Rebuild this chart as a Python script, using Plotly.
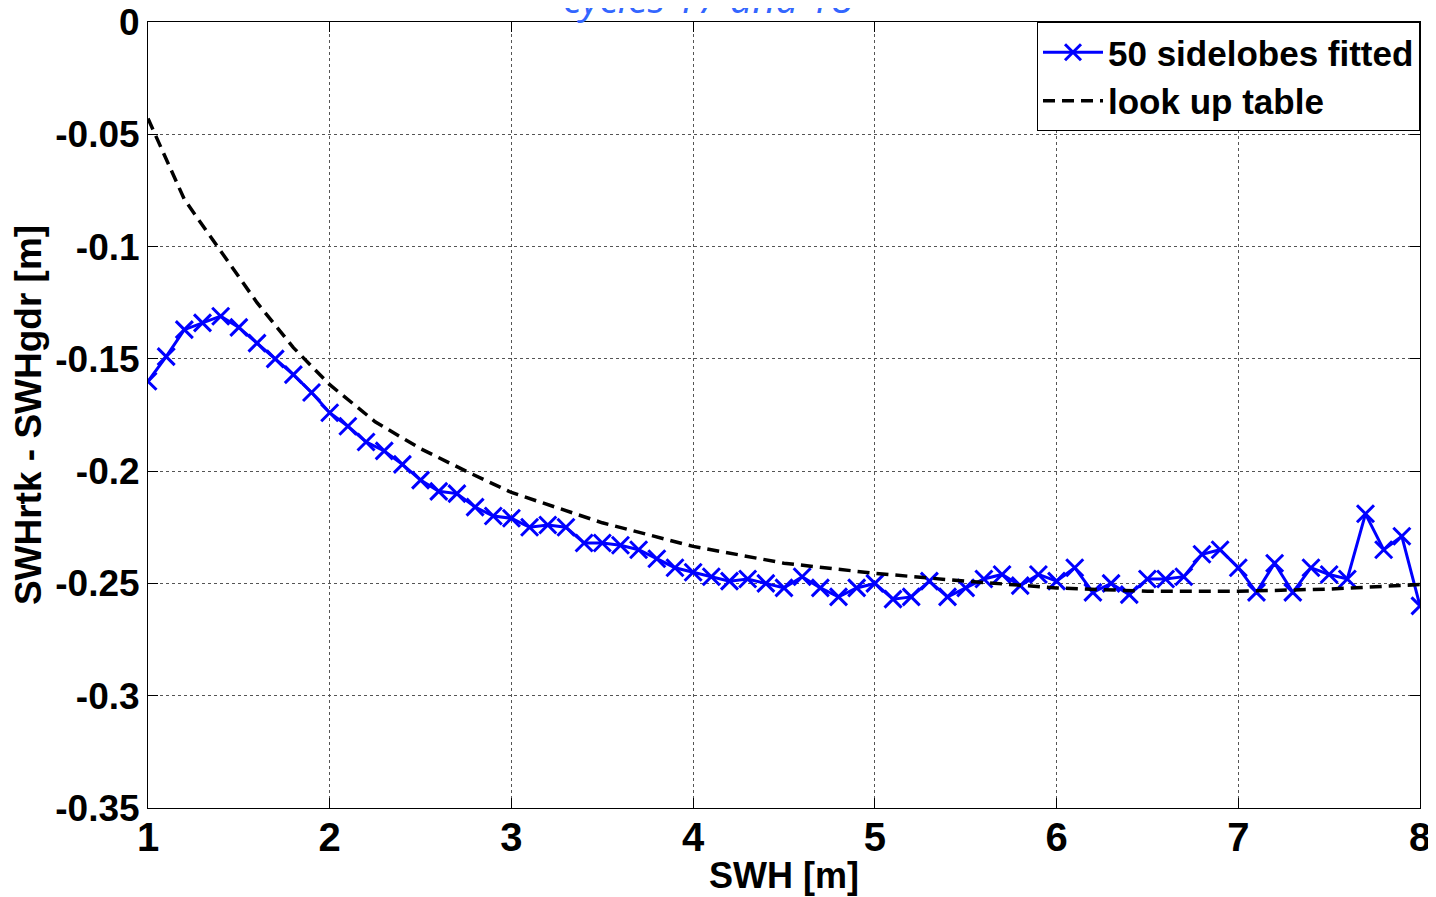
import plotly.graph_objects as go

# ---- data ----
swh = [round(1.0 + 0.1 * i, 1) for i in range(71)]
fitted_50 = [
    -0.160, -0.149, -0.137, -0.134, -0.131, -0.136, -0.143, -0.150, -0.157, -0.165,
    -0.174, -0.180, -0.187, -0.191, -0.197, -0.204, -0.209, -0.210, -0.216, -0.220,
    -0.221, -0.225, -0.224, -0.225, -0.232, -0.232, -0.233, -0.235, -0.239, -0.243,
    -0.245, -0.247, -0.249, -0.248, -0.250, -0.252, -0.247, -0.252, -0.256, -0.252,
    -0.250, -0.257, -0.256, -0.249, -0.256, -0.252, -0.248, -0.246, -0.251, -0.246,
    -0.249, -0.243, -0.254, -0.250, -0.255, -0.248, -0.248, -0.247, -0.237, -0.235,
    -0.243, -0.254, -0.241, -0.254, -0.243, -0.246, -0.248, -0.219, -0.235, -0.229,
    -0.260,
]
lut_swh = [1.0, 1.2, 1.4, 1.6, 1.8, 2.0, 2.25, 2.5, 2.75, 3.0, 3.5, 4.0, 4.5, 5.0,
           5.5, 6.0, 6.5, 7.0, 7.5, 8.0]
lut_vals = [-0.043, -0.079, -0.102, -0.125, -0.145, -0.1615, -0.178, -0.190, -0.200,
            -0.2095, -0.223, -0.2335, -0.241, -0.2455, -0.249, -0.252, -0.2535,
            -0.2535, -0.2525, -0.2505]

x_ticks = [1, 2, 3, 4, 5, 6, 7, 8]
y_ticks = [0, -0.05, -0.1, -0.15, -0.2, -0.25, -0.3, -0.35]
y_ticktext = ["0", "-0.05", "-0.1", "-0.15", "-0.2", "-0.25", "-0.3", "-0.35"]

FONT = "Liberation Sans"

fig = go.Figure()
fig.add_trace(go.Scatter(
    x=swh, y=fitted_50, mode="lines+markers", name="50 sidelobes fitted",
    line=dict(color="#0000ff", width=3),
    marker=dict(symbol="x-thin", size=17, line=dict(color="#0000ff", width=3)),
))
fig.add_trace(go.Scatter(
    x=lut_swh, y=lut_vals, mode="lines", name="look up table",
    line=dict(color="black", width=3.5, dash="12px,7px"),
))

axis_common = dict(
    showline=True, linecolor="black", linewidth=1, mirror="ticks",
    ticks="inside", ticklen=10, tickcolor="black",
    showgrid=True, gridcolor="#555555", gridwidth=1, griddash="dot",
    zeroline=False, automargin=False, ticklabeloverflow="allow",
)

fig.update_xaxes(
    range=[1, 8], tickvals=x_ticks, ticktext=[str(v) for v in x_ticks],
    tickfont=dict(family=FONT, size=40, color="black", weight="bold"),
    ticklabelstandoff=-6,
    title=dict(text="<b>SWH [m]</b>", font=dict(family=FONT, size=36, color="black"),
               standoff=4),
    **axis_common,
)
fig.update_yaxes(
    range=[-0.35, 0], tickvals=y_ticks, ticktext=y_ticktext,
    tickfont=dict(family=FONT, size=37, color="black", weight="bold"),
    title=dict(text="<b>SWHrtk - SWHgdr [m]</b>",
               font=dict(family=FONT, size=37, color="black"), standoff=4),
    **axis_common,
)

fig.add_annotation(
    text="cycles 17 and 18", xref="paper", yref="paper", x=0.440, y=1 - 5 / 786,
    xanchor="center", yanchor="bottom", showarrow=False,
    font=dict(family="Open Sans", size=40, color="#3366ff", style="italic"),
)

fig.update_layout(
    width=1428, height=889,
    margin=dict(l=140, r=16, t=14, b=89),
    paper_bgcolor="white", plot_bgcolor="white",
    showlegend=True,
    legend=dict(
        x=1, y=1, xanchor="right", yanchor="top",
        bgcolor="white", bordercolor="black", borderwidth=1,
        font=dict(family=FONT, size=35, color="black", weight="bold"),
        itemwidth=60, tracegroupgap=0,
        entrywidth=390, entrywidthmode="pixels",
    ),
)

fig.write_html("out.html")
